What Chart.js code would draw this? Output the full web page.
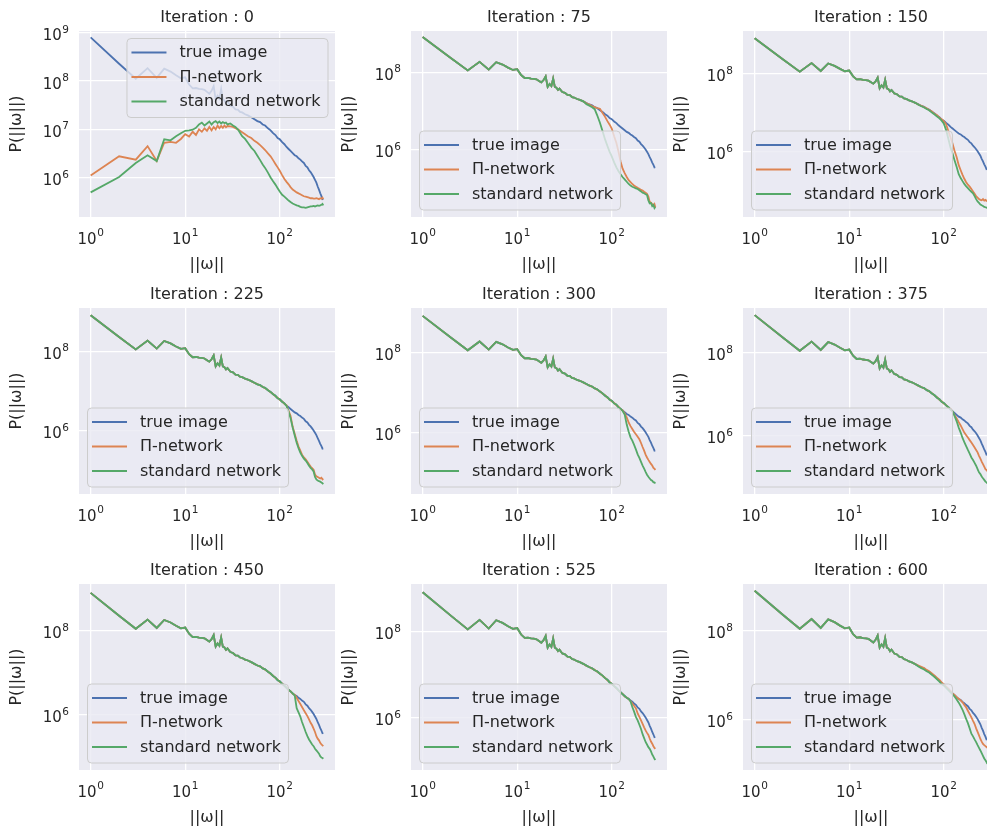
<!DOCTYPE html>
<html>
<head>
<meta charset="utf-8">
<script src="https://cdn.jsdelivr.net/npm/chart.js@4.4.0/dist/chart.umd.min.js"></script>
<style>
  html, body { margin:0; padding:0; background:#ffffff; overflow:hidden; }
  body { width:987px; height:829px; position:relative; }
  .panel { position:absolute; }
</style>
</head>
<body>
<script>
// ---------------- data ----------------
const ITERATIONS = [0, 75, 150, 225, 300, 375, 450, 525, 600];
const SERIES_LABELS = ['true image', 'Π-network', 'standard network'];

const OMEGA_HEAD = [1,2,3,4,5,6,7,8,9,10,11,12,13,14,15,16,17,18,19,20,21,22,23,24,25,26,27,28,30,32,34,36,38,40,43,46,50];
const OMEGA_TAIL = [54,58,62,66,70,75,80,85,90,95,100,106,112,118,124,130,137,144,151,158,165,172,180,188,196,204,212,220,228,236,244,252,260,268,276,283,289];

const TRUE_IMAGE_HEAD = [8.1e8,2.3e8,1.12e8,1.86e8,1.17e8,1.82e8,1.58e8,1.32e8,1.15e8,1.2e8,8.5e7,7.1e7,7.2e7,6.9e7,6.8e7,6.6e7,6.0e7,5.5e7,6.3e7,7.9e7,4.2e7,5.0e7,4.4e7,6.9e7,4.2e7,4.0e7,3.5e7,3.8e7,3.1e7,2.95e7,2.6e7,2.57e7,2.3e7,2.24e7,2.05e7,1.95e7,1.78e7];
const TRUE_IMAGE_TAIL = [1.62e7,1.48e7,1.41e7,1.26e7,1.2e7,1.05e7,9.5e6,8.3e6,7.6e6,6.6e6,6.2e6,5.4e6,4.9e6,4.3e6,3.9e6,3.55e6,3.2e6,2.9e6,2.75e6,2.5e6,2.35e6,2.15e6,2.0e6,1.74e6,1.62e6,1.41e6,1.29e6,1.15e6,1.02e6,8.9e5,7.8e5,6.5e5,5.6e5,4.7e5,4.1e5,3.55e5,3.6e5];

// iteration 0 (networks far from the true spectrum)
const PI_NET_0_HEAD = [1.1e6,2.75e6,2.34e6,4.47e6,2.19e6,5.25e6,5.5e6,5.25e6,6.3e6,7.9e6,7.1e6,8.9e6,7.6e6,1.0e7,8.9e6,1.05e7,9.3e6,1.12e7,9.5e6,1.12e7,1.0e7,1.2e7,1.05e7,1.17e7,1.07e7,1.2e7,1.1e7,1.17e7,1.15e7,1.12e7,1.05e7,1.0e7,9.3e6,8.7e6,7.9e6,7.2e6,6.6e6];
const PI_NET_0_TAIL = [5.75e6,5.25e6,4.68e6,4.17e6,3.72e6,3.16e6,2.75e6,2.29e6,1.91e6,1.62e6,1.38e6,1.12e6,9.3e5,8.1e5,7.2e5,6.3e5,5.6e5,5.25e5,4.9e5,4.68e5,4.47e5,4.27e5,4.07e5,4.0e5,3.9e5,3.8e5,3.7e5,3.7e5,3.63e5,3.63e5,3.7e5,3.63e5,3.55e5,3.7e5,3.63e5,3.8e5,3.55e5];
const STD_NET_0_HEAD = [4.9e5,1.02e6,2.0e6,2.88e6,2.19e6,6.2e6,5.9e6,7.2e6,8.3e6,9.3e6,9.5e6,9.8e6,1.07e7,1.26e7,1.38e7,1.2e7,1.32e7,1.45e7,1.26e7,1.41e7,1.48e7,1.35e7,1.45e7,1.32e7,1.41e7,1.35e7,1.38e7,1.26e7,1.32e7,1.2e7,1.12e7,1.0e7,8.5e6,7.2e6,6.3e6,5.25e6,4.17e6];
const STD_NET_0_TAIL = [3.55e6,2.82e6,2.29e6,1.86e6,1.58e6,1.26e6,1.0e6,8.3e5,7.1e5,6.0e5,5.1e5,4.37e5,4.0e5,3.63e5,3.31e5,3.09e5,2.88e5,2.75e5,2.63e5,2.57e5,2.45e5,2.4e5,2.4e5,2.34e5,2.4e5,2.45e5,2.5e5,2.5e5,2.57e5,2.5e5,2.57e5,2.63e5,2.57e5,2.63e5,2.7e5,2.82e5,2.63e5];

// later iterations: low frequencies coincide with the true image (TRUE_IMAGE_HEAD), tails differ
const PI_NET_75_TAIL  = [1.58e7,1.48e7,1.35e7,1.26e7,1.2e7,1.15e7,8.9e6,7.1e6,5.5e6,4.47e6,3.55e6,2.24e6,1.51e6,8.9e5,5.0e5,3.31e5,2.51e5,2.0e5,1.66e5,1.48e5,1.32e5,1.2e5,1.12e5,1.05e5,1.0e5,9.3e4,8.9e4,8.3e4,7.9e4,7.4e4,6.3e4,4.57e4,4.37e4,4.0e4,3.63e4,4.0e4,3.31e4];
const STD_NET_75_TAIL = [1.51e7,1.38e7,1.26e7,1.12e7,7.9e6,5.0e6,3.02e6,1.86e6,1.26e6,8.9e5,6.8e5,4.79e5,3.55e5,2.82e5,2.34e5,2.0e5,1.74e5,1.51e5,1.32e5,1.2e5,1.12e5,1.07e5,1.02e5,9.8e4,9.1e4,8.5e4,7.9e4,7.6e4,7.2e4,6.9e4,5.0e4,4.17e4,4.27e4,3.55e4,3.8e4,3.16e4,3.39e4];
const PI_NET_150_TAIL  = [1.6e7,1.5e7,1.38e7,1.29e7,1.17e7,1.07e7,9.3e6,8.5e6,7.4e6,6.8e6,6.0e6,5.0e6,3.31e6,2.29e6,1.58e6,1.05e6,7.1e5,4.47e5,3.31e5,2.51e5,2.0e5,1.66e5,1.41e5,1.26e5,1.1e5,9.5e4,8.3e4,7.1e4,6.6e4,6.0e4,5.75e4,5.6e4,6.0e4,5.5e4,5.75e4,5.4e4,5.6e4];
const STD_NET_150_TAIL = [1.58e7,1.45e7,1.35e7,1.23e7,1.15e7,1.0e7,8.9e6,7.9e6,7.1e6,6.2e6,5.25e6,3.55e6,2.09e6,1.26e6,8.9e5,6.0e5,4.0e5,2.63e5,2.09e5,1.74e5,1.48e5,1.29e5,1.15e5,1.02e5,9.3e4,8.5e4,7.2e4,6.0e4,5.25e4,4.79e4,4.37e4,4.17e4,4.0e4,3.8e4,3.72e4,3.63e4,3.55e4];
const PI_NET_225_TAIL  = [1.6e7,1.5e7,1.38e7,1.29e7,1.17e7,1.07e7,9.3e6,8.5e6,7.4e6,6.8e6,6.0e6,5.5e6,4.8e6,4.4e6,3.16e6,2.4e6,1.26e6,8.3e5,5.6e5,4.0e5,3.16e5,2.51e5,2.14e5,1.91e5,1.66e5,1.45e5,1.26e5,1.15e5,1.05e5,7.9e4,7.2e4,6.9e4,6.6e4,6.3e4,6.6e4,6.0e4,6.3e4];
const STD_NET_225_TAIL = [1.62e7,1.48e7,1.41e7,1.26e7,1.2e7,1.05e7,9.5e6,8.3e6,7.6e6,6.6e6,6.2e6,5.4e6,4.9e6,4.2e6,3.0e6,2.09e6,1.2e6,7.6e5,5.0e5,3.63e5,2.82e5,2.34e5,2.0e5,1.78e5,1.55e5,1.32e5,1.17e5,1.07e5,9.5e4,6.9e4,6.0e4,5.6e4,5.4e4,5.25e4,5.0e4,4.79e4,4.57e4];
const PI_NET_300_TAIL  = [1.6e7,1.5e7,1.38e7,1.29e7,1.17e7,1.07e7,9.3e6,8.5e6,7.4e6,6.8e6,6.0e6,5.5e6,4.8e6,4.4e6,3.8e6,3.6e6,3.0e6,2.4e6,1.78e6,1.45e6,1.23e6,1.05e6,9.1e5,7.9e5,6.8e5,5.5e5,4.37e5,3.55e5,2.82e5,2.4e5,2.09e5,1.86e5,1.66e5,1.51e5,1.32e5,1.26e5,1.17e5];
const STD_NET_300_TAIL = [1.62e7,1.48e7,1.41e7,1.26e7,1.2e7,1.05e7,9.5e6,8.3e6,7.6e6,6.6e6,6.2e6,5.3e6,5.0e6,4.2e6,3.95e6,3.5e6,2.82e6,1.58e6,1.05e6,7.6e5,6.3e5,5.0e5,3.8e5,2.88e5,2.34e5,1.86e5,1.51e5,1.26e5,1.05e5,8.9e4,7.9e4,7.2e4,6.6e4,6.3e4,5.75e4,5.75e4,5.4e4];
const PI_NET_375_TAIL  = [1.6e7,1.5e7,1.38e7,1.29e7,1.17e7,1.07e7,9.3e6,8.5e6,7.4e6,6.8e6,6.0e6,5.5e6,4.8e6,4.4e6,3.8e6,3.16e6,2.63e6,2.14e6,1.78e6,1.45e6,1.2e6,1.05e6,9.1e5,7.9e5,6.9e5,6.0e5,5.25e5,4.57e5,4.0e5,3.31e5,2.82e5,2.4e5,2.09e5,1.82e5,1.58e5,1.51e5,1.41e5];
const STD_NET_375_TAIL = [1.62e7,1.48e7,1.41e7,1.26e7,1.2e7,1.05e7,9.5e6,8.3e6,7.6e6,6.6e6,6.2e6,5.4e6,4.9e6,4.3e6,3.9e6,3.02e6,2.24e6,1.58e6,1.2e6,8.9e5,7.1e5,5.75e5,4.57e5,3.72e5,3.02e5,2.63e5,2.24e5,1.91e5,1.58e5,1.32e5,1.2e5,1.05e5,9.5e4,8.7e4,7.9e4,7.6e4,7.1e4];
const PI_NET_450_TAIL  = [1.6e7,1.5e7,1.38e7,1.29e7,1.17e7,1.07e7,9.3e6,8.5e6,7.4e6,6.8e6,6.0e6,5.5e6,4.8e6,4.4e6,3.8e6,3.6e6,3.1e6,2.95e6,2.51e6,2.09e6,1.78e6,1.51e6,1.26e6,1.07e6,9.1e5,7.6e5,6.3e5,5.5e5,4.57e5,3.8e5,3.02e5,2.63e5,2.4e5,2.09e5,1.91e5,1.82e5,1.74e5];
const STD_NET_450_TAIL = [1.62e7,1.48e7,1.41e7,1.26e7,1.2e7,1.05e7,9.5e6,8.3e6,7.6e6,6.6e6,6.2e6,5.4e6,4.9e6,4.3e6,3.9e6,3.55e6,3.2e6,2.8e6,1.41e6,1.12e6,8.9e5,6.6e5,5.0e5,3.8e5,3.02e5,2.51e5,2.19e5,1.91e5,1.74e5,1.51e5,1.38e5,1.26e5,1.15e5,1.0e5,9.3e4,9.1e4,8.7e4];
const PI_NET_525_TAIL  = [1.6e7,1.5e7,1.38e7,1.29e7,1.17e7,1.07e7,9.3e6,8.5e6,7.4e6,6.8e6,6.0e6,5.5e6,4.8e6,4.4e6,3.8e6,3.6e6,3.1e6,2.95e6,2.7e6,2.45e6,2.14e6,1.91e6,1.66e6,1.26e6,1.05e6,8.7e5,7.2e5,6.0e5,5.1e5,4.47e5,4.0e5,3.31e5,2.82e5,2.51e5,2.19e5,2.0e5,1.91e5];
const STD_NET_525_TAIL = [1.62e7,1.48e7,1.41e7,1.26e7,1.2e7,1.05e7,9.5e6,8.3e6,7.6e6,6.6e6,6.2e6,5.4e6,4.9e6,4.3e6,3.9e6,3.55e6,3.2e6,2.9e6,2.75e6,2.4e6,1.78e6,1.41e6,1.05e6,8.7e5,6.9e5,5.5e5,4.17e5,3.39e5,2.75e5,2.4e5,2.09e5,1.91e5,1.66e5,1.41e5,1.26e5,1.12e5,1.05e5];
const PI_NET_600_TAIL  = [1.66e7,1.55e7,1.45e7,1.32e7,1.23e7,1.1e7,9.8e6,8.7e6,7.8e6,6.9e6,6.3e6,5.5e6,4.9e6,4.4e6,3.9e6,3.6e6,3.2e6,2.95e6,2.7e6,2.45e6,2.14e6,1.91e6,1.58e6,1.32e6,1.12e6,9.3e5,7.9e5,6.3e5,5.25e5,4.37e5,3.63e5,3.16e5,2.82e5,2.63e5,2.51e5,2.4e5,2.29e5];
const STD_NET_600_TAIL = [1.58e7,1.45e7,1.35e7,1.23e7,1.15e7,1.02e7,9.1e6,8.1e6,7.2e6,6.3e6,5.9e6,5.2e6,4.6e6,4.1e6,3.7e6,3.31e6,2.82e6,2.4e6,2.0e6,1.66e6,1.32e6,1.05e6,8.3e5,6.3e5,4.79e5,4.17e5,3.55e5,3.09e5,2.63e5,2.29e5,2.0e5,1.74e5,1.51e5,1.32e5,1.2e5,1.1e5,1.0e5];

// ticks & axis limits (tick labels as [base, exponent])
const X_TICKS = [1, 10, 100];
const X_TICK_LABELS = [['10', '0'], ['10', '1'], ['10', '2']];
const Y_TICKS_FIRST = [1e6, 1e7, 1e8, 1e9];
const Y_TICK_LABELS_FIRST = [['10', '6'], ['10', '7'], ['10', '8'], ['10', '9']];
const Y_TICKS_OTHER = [1e6, 1e8];
const Y_TICK_LABELS_OTHER = [['10', '6'], ['10', '8']];
const X_MIN = 0.753, X_MAX = 384;
const Y_MIN = [1.51e5, 1.86e4, 2.09e4, 2.57e4, 2.95e4, 3.98e4, 4.68e4, 6.17e4, 7.24e4];
const Y_MAX = [1.10e9, 1.16e9, 1.24e9, 1.23e9, 1.27e9, 1.20e9, 1.32e9, 1.26e9, 1.15e9];

// ---------------- assembly ----------------
const OMEGA = OMEGA_HEAD.concat(OMEGA_TAIL);
const TRUE_IMAGE = TRUE_IMAGE_HEAD.concat(TRUE_IMAGE_TAIL);
const PI_NET = [
  PI_NET_0_HEAD.concat(PI_NET_0_TAIL),
  TRUE_IMAGE_HEAD.concat(PI_NET_75_TAIL),
  TRUE_IMAGE_HEAD.concat(PI_NET_150_TAIL),
  TRUE_IMAGE_HEAD.concat(PI_NET_225_TAIL),
  TRUE_IMAGE_HEAD.concat(PI_NET_300_TAIL),
  TRUE_IMAGE_HEAD.concat(PI_NET_375_TAIL),
  TRUE_IMAGE_HEAD.concat(PI_NET_450_TAIL),
  TRUE_IMAGE_HEAD.concat(PI_NET_525_TAIL),
  TRUE_IMAGE_HEAD.concat(PI_NET_600_TAIL)
];
const STD_NET = [
  STD_NET_0_HEAD.concat(STD_NET_0_TAIL),
  TRUE_IMAGE_HEAD.concat(STD_NET_75_TAIL),
  TRUE_IMAGE_HEAD.concat(STD_NET_150_TAIL),
  TRUE_IMAGE_HEAD.concat(STD_NET_225_TAIL),
  TRUE_IMAGE_HEAD.concat(STD_NET_300_TAIL),
  TRUE_IMAGE_HEAD.concat(STD_NET_375_TAIL),
  TRUE_IMAGE_HEAD.concat(STD_NET_450_TAIL),
  TRUE_IMAGE_HEAD.concat(STD_NET_525_TAIL),
  TRUE_IMAGE_HEAD.concat(STD_NET_600_TAIL)
];

// ---------------- styling / layout ----------------
const FONT = "'DejaVu Sans', 'Liberation Sans', sans-serif";
const TEXT = '#262626';
const COLORS = ['#4C72B0', '#DD8452', '#55A868'];
const PLOT_LEFTS = [79, 411, 743];
const PLOT_TOPS = [31, 308, 584];
const PLOT_W = 256, PLOT_H = 186;
const Y_AREA = 80, TOP_AREA = 32, X_AREA = 62, RIGHT_AREA = 12;

const bgPlugin = {
  id: 'bg',
  beforeDraw(chart) {
    const {ctx, chartArea: a} = chart;
    ctx.save();
    ctx.fillStyle = '#EAEAF2';
    ctx.fillRect(a.left, a.top, a.right - a.left, a.bottom - a.top);
    ctx.restore();
  }
};

function roundRectPath(ctx, x, y, w, h, r) {
  ctx.beginPath();
  ctx.moveTo(x + r, y);
  ctx.lineTo(x + w - r, y);
  ctx.arcTo(x + w, y, x + w, y + r, r);
  ctx.lineTo(x + w, y + h - r);
  ctx.arcTo(x + w, y + h, x + w - r, y + h, r);
  ctx.lineTo(x + r, y + h);
  ctx.arcTo(x, y + h, x, y + h - r, r);
  ctx.lineTo(x, y + r);
  ctx.arcTo(x, y, x + r, y, r);
  ctx.closePath();
}

// draws "10" with a raised exponent; cy = vertical centre of the base digits
function drawPower(ctx, px, cy, label, align) {
  const [base, exp] = label;
  ctx.font = '15px ' + FONT;
  const bw = ctx.measureText(base).width;
  ctx.font = '10.5px ' + FONT;
  const ew = ctx.measureText(exp).width;
  const total = bw + 0.6 + ew;
  const left = align === 'center' ? px - total / 2 : px - total;
  ctx.fillStyle = TEXT;
  ctx.textAlign = 'left';
  ctx.textBaseline = 'alphabetic';
  ctx.font = '15px ' + FONT;
  ctx.fillText(base, left, cy + 5.5);
  ctx.font = '10.5px ' + FONT;
  ctx.fillText(exp, left + bw + 0.6, cy + 5.5 - 7.4);
}

function decorPlugin(titleText, corner, xTicks, xLabels, yTicks, yLabels) {
  return {
    id: 'decor',
    afterDatasetsDraw(chart) {
      const {ctx, chartArea: a} = chart;
      ctx.save();
      ctx.font = '16px ' + FONT;
      const labels = chart.data.datasets.map(d => d.label);
      const colors = chart.data.datasets.map(d => d.borderColor);
      const maxW = Math.max(...labels.map(l => ctx.measureText(l).width));
      const w = 53 + maxW + 7, h = 79;
      let x, y;
      if (corner === 'upper right') { x = a.right - 7.5 - w; y = a.top + 7; }
      else { x = a.left + 8; y = a.bottom - 7.5 - h; }
      roundRectPath(ctx, x + 0.5, y + 0.5, w, h, 4);
      ctx.fillStyle = 'rgba(234,234,242,0.8)';
      ctx.fill();
      ctx.strokeStyle = '#cccccc';
      ctx.lineWidth = 1;
      ctx.stroke();
      const rows = [14.5, 39, 63.5];
      labels.forEach((lab, i) => {
        const cy = y + rows[i];
        ctx.beginPath();
        ctx.moveTo(x + 5, cy);
        ctx.lineTo(x + 40, cy);
        ctx.strokeStyle = colors[i];
        ctx.lineWidth = 1.8;
        ctx.stroke();
        ctx.fillStyle = TEXT;
        ctx.textBaseline = 'middle';
        ctx.textAlign = 'left';
        ctx.fillText(lab, x + 53, cy + 0.5);
      });
      ctx.restore();
    },
    afterDraw(chart) {
      const {ctx, chartArea: a} = chart;
      ctx.save();
      ctx.font = '16px ' + FONT;
      ctx.fillStyle = TEXT;
      ctx.textAlign = 'center';
      ctx.textBaseline = 'middle';
      ctx.fillText(titleText, (a.left + a.right) / 2, a.top - 13);
      const xs = chart.scales.x, ys = chart.scales.y;
      xTicks.forEach((v, i) => drawPower(ctx, xs.getPixelForValue(v), a.bottom + 21, xLabels[i], 'center'));
      yTicks.forEach((v, i) => drawPower(ctx, a.left - 10, ys.getPixelForValue(v) + 2, yLabels[i], 'right'));
      ctx.restore();
    }
  };
}

ITERATIONS.forEach((iter, p) => {
  const row = Math.floor(p / 3), col = p % 3;
  const div = document.createElement('div');
  div.className = 'panel';
  const W = Y_AREA + PLOT_W + RIGHT_AREA, H = TOP_AREA + PLOT_H + X_AREA;
  div.style.left = (PLOT_LEFTS[col] - Y_AREA) + 'px';
  div.style.top = (PLOT_TOPS[row] - TOP_AREA) + 'px';
  div.style.width = W + 'px';
  div.style.height = H + 'px';
  const canvas = document.createElement('canvas');
  canvas.width = W; canvas.height = H;
  canvas.style.width = W + 'px'; canvas.style.height = H + 'px';
  div.appendChild(canvas);
  document.body.appendChild(div);

  const yTicks = p === 0 ? Y_TICKS_FIRST : Y_TICKS_OTHER;
  const yLabels = p === 0 ? Y_TICK_LABELS_FIRST : Y_TICK_LABELS_OTHER;
  const series = [TRUE_IMAGE, PI_NET[p], STD_NET[p]];

  const datasets = series.map((vals, k) => ({
    label: SERIES_LABELS[k],
    data: OMEGA.map((w, i) => ({x: w, y: vals[i]})),
    borderColor: COLORS[k],
    backgroundColor: COLORS[k],
    borderWidth: 1.8,
    pointRadius: 0,
    pointHoverRadius: 0,
    fill: false,
    tension: 0,
    order: 3 - k
  }));

  new Chart(canvas, {
    type: 'line',
    data: { datasets },
    options: {
      responsive: false,
      animation: false,
      devicePixelRatio: 1,
      events: [],
      layout: { padding: { top: TOP_AREA, right: RIGHT_AREA, left: 0, bottom: 0 } },
      plugins: { legend: { display: false }, title: { display: false }, tooltip: { enabled: false } },
      scales: {
        x: {
          type: 'logarithmic',
          min: X_MIN, max: X_MAX,
          afterFit(s) { s.height = X_AREA; },
          afterBuildTicks(s) { s.ticks = X_TICKS.map(v => ({ value: v })); },
          ticks: { display: false, autoSkip: false, maxRotation: 0 },
          grid: { color: '#ffffff', lineWidth: 1.3, drawTicks: false },
          border: { display: false },
          title: { display: true, text: '||ω||', color: TEXT, font: { family: FONT, size: 16 }, padding: { top: 0, bottom: 5 } }
        },
        y: {
          type: 'logarithmic',
          min: Y_MIN[p], max: Y_MAX[p],
          afterFit(s) { s.width = Y_AREA; },
          afterBuildTicks(s) { s.ticks = yTicks.map(v => ({ value: v })); },
          ticks: { display: false, autoSkip: false },
          grid: { color: '#ffffff', lineWidth: 1.3, drawTicks: false },
          border: { display: false },
          title: { display: true, text: 'P(||ω||)', color: TEXT, font: { family: FONT, size: 16 }, padding: { top: 8, bottom: 0 } }
        }
      }
    },
    plugins: [bgPlugin, decorPlugin('Iteration : ' + iter, p === 0 ? 'upper right' : 'lower left',
                                    X_TICKS, X_TICK_LABELS, yTicks, yLabels)]
  });
});
</script>
</body>
</html>
